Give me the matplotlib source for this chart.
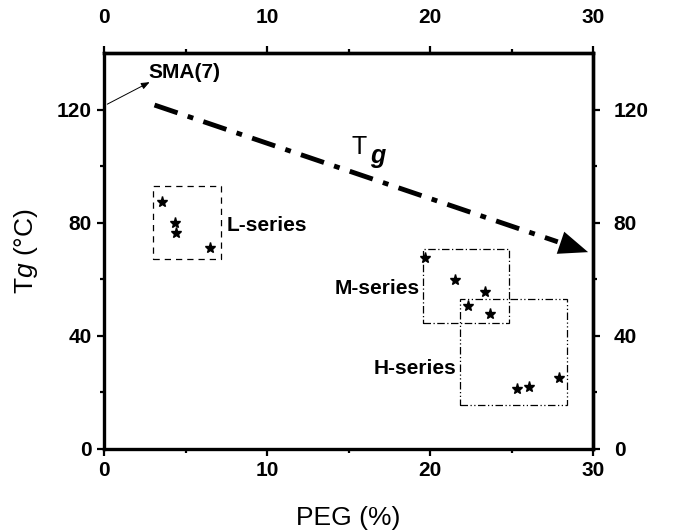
import matplotlib
matplotlib.use("Agg")
import matplotlib.pyplot as plt
from matplotlib.patches import Rectangle

plt.rcParams["font.family"] = ["Liberation Sans", "DejaVu Sans"]
plt.rcParams["font.weight"] = "bold"
plt.rcParams["mathtext.fontset"] = "custom"
plt.rcParams["mathtext.rm"] = "Liberation Sans:normal"
plt.rcParams["mathtext.it"] = "Liberation Sans:italic:normal"

# Glass transition temperature vs PEG content for each copolymer series
l_peg = [3.54, 4.36, 4.42, 6.50]
l_tg = [87.4, 79.8, 76.4, 70.9]
m_peg = [19.69, 21.53, 23.37, 22.31, 23.68]
m_tg = [67.7, 59.7, 55.6, 50.5, 47.9]
h_peg = [25.36, 26.09, 27.91]
h_tg = [21.1, 22.0, 25.0]

# Reference homopolymer SMA(7) on the Tg axis
sma_peg, sma_tg = 0.2, 121.9

# Overall Tg trend (start, end)
trend_peg = [3.1, 29.7]
trend_tg = [121.6, 69.6]

# Series groupings: (x0, x1, y0, y1)
l_box = (3.0, 7.2, 67.0, 92.9)
m_box = (19.55, 24.85, 44.5, 70.6)
h_box = (21.85, 28.4, 15.7, 52.9)

x_ticks = [0, 10, 20, 30]
x_minor = [5, 15, 25]
y_ticks = [0, 40, 80, 120]
y_minor = [20, 60, 100]

fig = plt.figure(figsize=(6.86, 5.30), dpi=100)
ax = fig.add_axes([104 / 686, 1 - 449 / 530, (593 - 104) / 686, (449 - 53) / 530])
ax.set_xlim(0, 30)
ax.set_ylim(0, 140)

for s in ax.spines.values():
    s.set_linewidth(2.4)

ax.set_xticks(x_ticks)
ax.set_xticks(x_minor, minor=True)
ax.set_yticks(y_ticks)
ax.set_yticks(y_minor, minor=True)
ax.tick_params(which="both", direction="out", top=False, right=False, width=1.6)
ax.tick_params(which="major", length=5, labelsize=15, pad=4)
ax.tick_params(which="minor", length=3)

# Mirrored scales on top and right
top = ax.secondary_xaxis("top")
right = ax.secondary_yaxis("right")
top.set_xticks(x_ticks)
top.set_xticks(x_minor, minor=True)
right.set_yticks(y_ticks)
right.set_yticks(y_minor, minor=True)
for sec, p in [(top, 14), (right, 10)]:
    for s in sec.spines.values():
        s.set_linewidth(2.4)
    sec.tick_params(which="both", direction="out", width=1.6)
    sec.tick_params(which="major", length=5, labelsize=15, pad=p)
    sec.tick_params(which="minor", length=3)

ax.set_xlabel("PEG (%)", fontsize=19, fontweight="normal", labelpad=18)
ax.set_ylabel(r"T$\mathit{g}$ (°C)", fontsize=19, fontweight="normal", labelpad=12)

# Data points
for px, py in [(l_peg, l_tg), (m_peg, m_tg), (h_peg, h_tg)]:
    ax.plot(px, py, linestyle="none", marker="*", color="black",
            markersize=8)

# Group boxes
def draw_box(b, ls):
    x0, x1, y0, y1 = b
    ax.add_patch(Rectangle((x0, y0), x1 - x0, y1 - y0, fill=False,
                           edgecolor="black", linewidth=0.9, linestyle=ls))

draw_box(l_box, (0, (5, 4)))
draw_box(m_box, (0, (6, 2, 1, 2)))
draw_box(h_box, (0, (6, 2, 1, 2, 1, 2)))

ax.text(7.55, 79.0, "L-series", fontsize=15, ha="left", va="center")
ax.text(19.4, 56.7, "M-series", fontsize=15, ha="right", va="center")
ax.text(21.6, 28.3, "H-series", fontsize=15, ha="right", va="center")

# SMA(7) label with pointer
ax.text(2.75, 133.2, "SMA(7)", fontsize=15, ha="left", va="center")
ax.annotate("", xy=(2.8, 129.7), xytext=(sma_peg, sma_tg),
            arrowprops=dict(arrowstyle="-|>,head_length=0.5,head_width=0.2",
                            color="black", lw=0.7, shrinkA=0, shrinkB=0))

# Tg trend arrow: dash-dot shaft and solid head
x0, x1 = trend_peg
y0, y1 = trend_tg
frac = 0.93
ax.plot([x0, x0 + frac * (x1 - x0)], [y0, y0 + frac * (y1 - y0)],
        color="black", lw=3.5, linestyle=(0, (5, 2.2, 1.2, 2.2)))
ax.annotate("", xy=(x1, y1),
            xytext=(x0 + 0.9 * (x1 - x0), y0 + 0.9 * (y1 - y0)),
            arrowprops=dict(arrowstyle="-|>,head_length=1.05,head_width=0.42",
                            mutation_scale=20, color="black", lw=0,
                            shrinkA=0, shrinkB=0))

ax.text(15.2, 104.2, "T", fontsize=18, fontweight="normal", ha="left",
        va="baseline")
ax.text(16.3, 101.2, "g", fontsize=18, fontweight="bold", style="italic",
        ha="left", va="baseline")

fig.savefig("out.png", dpi=100)
